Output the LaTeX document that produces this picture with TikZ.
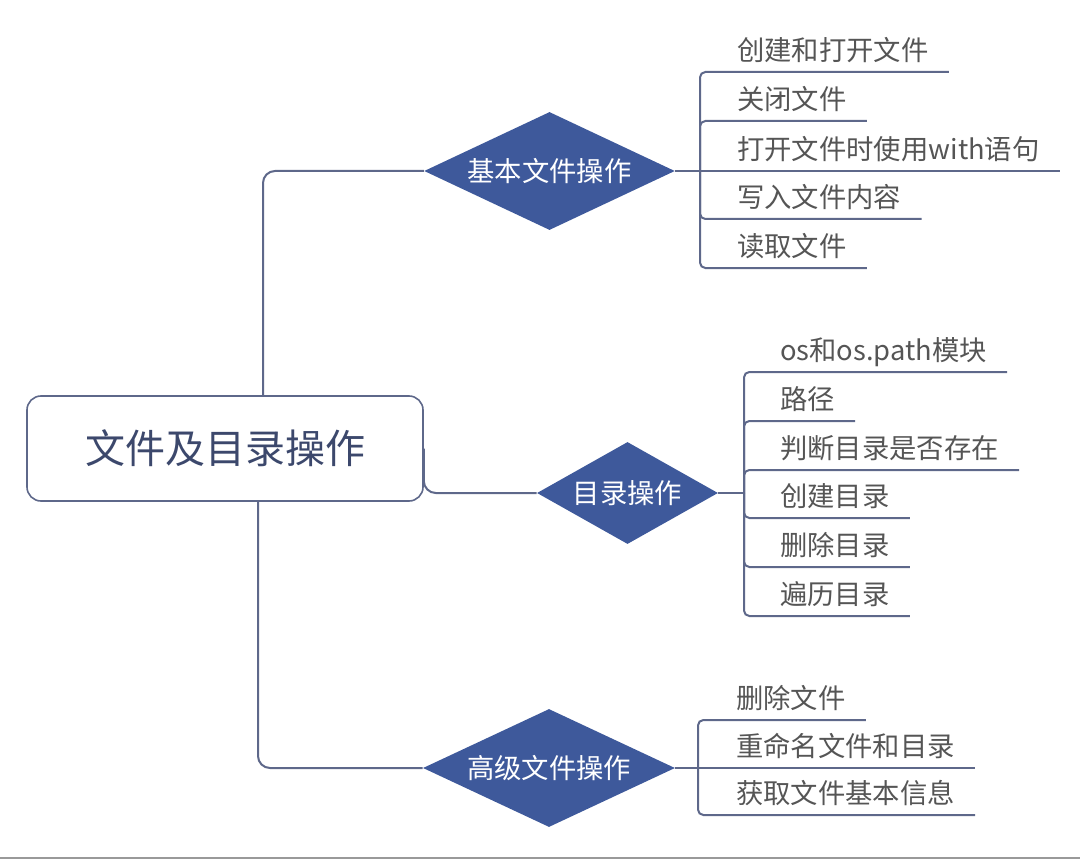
\documentclass[tikz,border=0pt]{standalone}
\usepackage{fontspec}
\setmainfont{Noto Sans CJK SC}
\usetikzlibrary{shapes.geometric, calc}
\definecolor{linecol}{RGB}{94,104,138}
\definecolor{diafill}{RGB}{62,89,155}
\definecolor{roottext}{RGB}{60,72,108}
\definecolor{leaftext}{RGB}{85,85,85}

\begin{document}
\begin{tikzpicture}[x=0.75pt,y=0.75pt,yscale=-1,
  root/.style={draw=linecol, line width=1.2pt, rounded corners=10.5pt, minimum width=297pt, minimum height=78.75pt, text=roottext, text height=26.4pt, text depth=3.6pt, font=\fontsize{30}{36}\selectfont},
  topic/.style={diamond, aspect=2, fill=diafill, inner sep=0pt, text=white, text height=18pt, text depth=2.5pt, font=\fontsize{20.5}{24}\selectfont},
  leaf/.style={anchor=south west, inner xsep=15pt, inner ysep=6pt, text=leaftext, text height=18pt, text depth=2.5pt, font=\fontsize{20.5}{24}\selectfont},
  trunk/.style={draw=linecol, line width=1.5pt, rounded corners=9pt},
  branch/.style={draw=linecol, line width=1.5pt, rounded corners=4pt}]
\useasboundingbox (0,0) rectangle (1080,859);

%Shape: Rounded Rect
\node[root] (root) at (225,448.5) {文件及目录操作};

%Shape: Diamond
\node[topic, minimum width=188pt, minimum height=88.5pt] (fop) at (549.5,171) {基本文件操作};
%Shape: Diamond
\node[topic, minimum width=135.75pt, minimum height=76.5pt] (dop) at (627.5,493) {目录操作};
%Shape: Diamond
\node[topic, minimum width=189pt, minimum height=88.5pt] (aop) at (549,768) {高级文件操作};

%Straight Lines
\draw[trunk] ($(root.north)+(38,0)$) |- (fop.west);
\draw[trunk] (root.east) |- (dop.west);
\draw[trunk] ($(root.south)+(33,0)$) |- (aop.west);

% Text Node
\node[leaf] (f1) at (717,72) {创建和打开文件};
\node[leaf] (f2) at (717,121) {关闭文件};
\node[leaf] (f3) at (717,171) {打开文件时使用with语句};
\node[leaf] (f4) at (717,219) {写入文件内容};
\node[leaf] (f5) at (717,268) {读取文件};
\coordinate (fbus) at (700,171);
\draw[branch] (fop.east) -- (f3.south east);
\foreach \n in {f1,f2,f4,f5}
  \draw[branch] (fbus) |- (\n.south east);

% Text Node
\node[leaf] (g1) at (760,372) {os和os.path模块};
\node[leaf] (g2) at (760,421) {路径};
\node[leaf] (g3) at (760,470) {判断目录是否存在};
\node[leaf] (g4) at (760,518) {创建目录};
\node[leaf] (g5) at (760,567) {删除目录};
\node[leaf] (g6) at (760,616) {遍历目录};
\coordinate (gbus) at (744,493);
\draw[branch] (dop.east) -- (gbus);
\foreach \n in {g1,g2,g3,g4,g5,g6}
  \draw[branch] (gbus) |- (\n.south east);

% Text Node
\node[leaf] (h1) at (716,720) {删除文件};
\node[leaf] (h2) at (716,768) {重命名文件和目录};
\node[leaf] (h3) at (716,815) {获取文件基本信息};
\coordinate (hbus) at (698,768);
\draw[branch] (aop.east) -- (h2.south east);
\foreach \n in {h1,h3}
  \draw[branch] (hbus) |- (\n.south east);

%Straight Lines
\draw[color=black!40, line width=1.5pt] (0,857.5) -- (1080,857.5);

\end{tikzpicture}
\end{document}
